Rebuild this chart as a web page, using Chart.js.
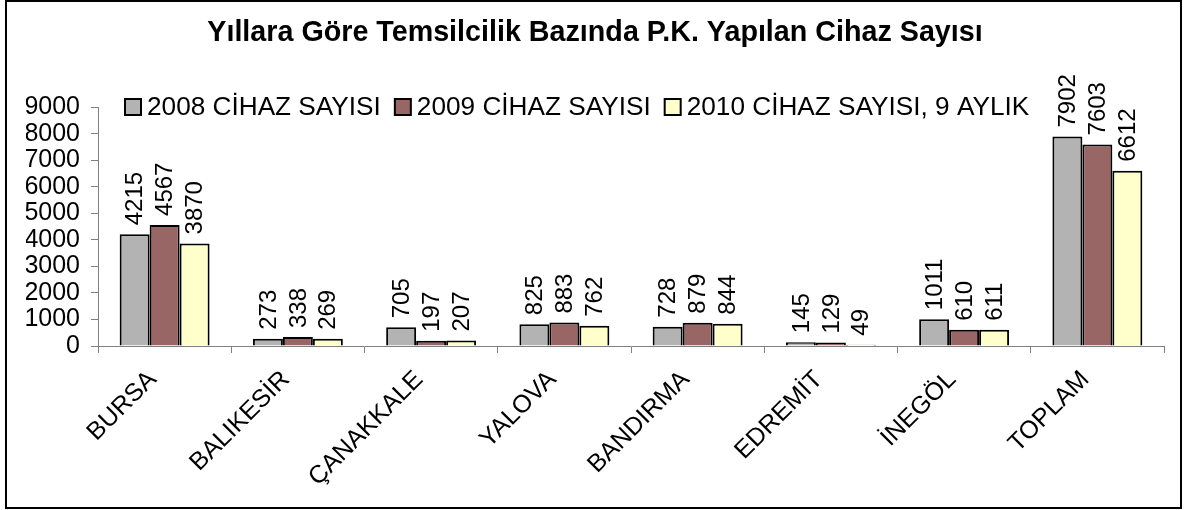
<!DOCTYPE html>
<html>
<head>
<meta charset="utf-8">
<script src="https://cdn.jsdelivr.net/npm/chart.js@4.4.0/dist/chart.umd.min.js"></script>
<style>
  body { margin: 0; background: #fff; }
</style>
</head>
<body>
<canvas id="chartCihaz" width="1186" height="510"></canvas>
<script>
const categories = ["BURSA", "BALIKESİR", "ÇANAKKALE", "YALOVA", "BANDIRMA", "EDREMİT", "İNEGÖL", "TOPLAM"];
const cihaz2008 = [4215, 273, 705, 825, 728, 145, 1011, 7902];
const cihaz2009 = [4567, 338, 197, 883, 879, 129, 610, 7603];
const cihaz2010 = [3870, 269, 207, 762, 844, 49, 611, 6612];
const seriesNames = ["2008 CİHAZ SAYISI", "2009 CİHAZ SAYISI", "2010 CİHAZ SAYISI, 9 AYLIK"];

const FONT = "'Liberation Sans', Arial, sans-serif";

// outer frame
const framePlugin = {
  id: "frame",
  afterDraw(chart) {
    const c = chart.ctx;
    c.save();
    c.strokeStyle = "#000";
    c.lineWidth = 2;
    c.strokeRect(6, 1, 1175, 507);
    c.restore();
  },
};

// rotated value labels above each bar
const valueLabels = {
  id: "valueLabels",
  afterDatasetsDraw(chart) {
    const c = chart.ctx;
    c.save();
    c.font = "24px " + FONT;
    c.fillStyle = "#000";
    c.textAlign = "left";
    c.textBaseline = "middle";
    chart.data.datasets.forEach((ds, i) => {
      chart.getDatasetMeta(i).data.forEach((bar, j) => {
        c.save();
        c.translate(bar.x + 1, bar.y - 9);
        c.rotate(-Math.PI / 2);
        c.fillText(String(ds.data[j]), 0, 0);
        c.restore();
      });
    });
    c.restore();
  },
};

// legend sitting inside the plot area
const insideLegend = {
  id: "insideLegend",
  afterDraw(chart) {
    const c = chart.ctx;
    c.save();
    c.font = "26.2px " + FONT;
    c.textBaseline = "middle";
    c.textAlign = "left";
    let x = 125;
    const y = 107;
    chart.data.datasets.forEach((ds) => {
      c.fillStyle = ds.backgroundColor;
      c.fillRect(x, y - 8, 16, 16);
      c.strokeStyle = "#000";
      c.lineWidth = 2;
      c.strokeRect(x, y - 8, 16, 16);
      c.fillStyle = "#000";
      c.fillText(ds.label, x + 22, y + 1);
      x += 22 + c.measureText(ds.label).width + 14;
    });
    c.restore();
  },
};

const ctx = document.getElementById("chartCihaz");

const myChart = new Chart(ctx, {
  type: "bar",
  data: {
    labels: categories,
    datasets: [
      {
        label: seriesNames[0],
        data: cihaz2008,
        backgroundColor: "#B3B3B3",
        borderColor: "#000",
        borderWidth: 2,
      },
      {
        label: seriesNames[1],
        data: cihaz2009,
        backgroundColor: "#996666",
        borderColor: "#000",
        borderWidth: 2,
      },
      {
        label: seriesNames[2],
        data: cihaz2010,
        backgroundColor: "#FFFFCC",
        borderColor: "#000",
        borderWidth: 2,
      },
    ],
  },
  options: {
    responsive: false,
    animation: false,
    layout: { padding: { left: 26, right: 22, top: 0, bottom: 0 } },
    datasets: {
      bar: { categoryPercentage: 0.675, barPercentage: 1 },
    },
    plugins: {
      legend: { display: false },
      tooltip: { enabled: false },
      title: {
        display: true,
        text: "Yıllara Göre Temsilcilik Bazında P.K. Yapılan Cihaz Sayısı",
        color: "#000",
        font: { family: FONT, size: 28.7, weight: "bold" },
        padding: { top: 16, bottom: 57 },
      },
    },
    scales: {
      x: {
        afterFit(scale) {
          scale.height = 164;
        },
        grid: { drawOnChartArea: false, color: "#808080", tickLength: 7 },
        border: { color: "#808080", width: 1 },
        ticks: {
          color: "#000",
          font: { family: FONT, size: 25 },
          maxRotation: 45,
          minRotation: 45,
          autoSkip: false,
          padding: 12,
          labelOffset: -12,
        },
      },
      y: {
        min: 0,
        max: 9000,
        afterFit(scale) {
          scale.width = 72;
        },
        grid: { drawOnChartArea: false, color: "#808080", tickLength: 7 },
        border: { color: "#808080", width: 1 },
        ticks: {
          stepSize: 1000,
          autoSkip: false,
          color: "#000",
          font: { family: FONT, size: 25 },
          padding: 11,
          callback: (v) => String(v),
        },
      },
    },
  },
  plugins: [valueLabels, insideLegend, framePlugin],
});
</script>
</body>
</html>
